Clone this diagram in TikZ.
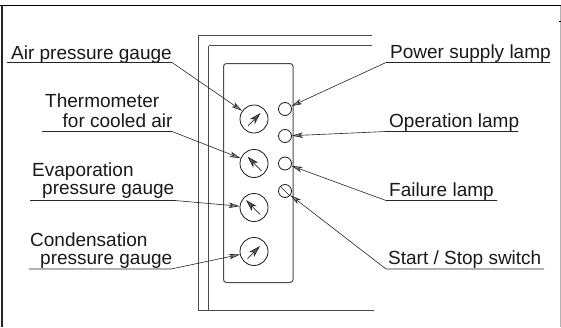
\documentclass[tikz,border=0pt]{standalone}
\usepackage{fontspec}
\setmainfont{Liberation Sans}
\usetikzlibrary{arrows.meta}
\tikzset{
  x=1pt,y=-1pt,
  lbl/.style={inner sep=0pt,font=\fontsize{19}{22}\selectfont,text=black!90,anchor=base west},
  leader/.style={draw=black!85,line width=0.6pt,-{Stealth[length=11pt,width=5.5pt,inset=3pt,fill=black!45]}},
  rule/.style={draw=black!70,line width=1pt},
  dial/.style={circle,draw=black!90,line width=0.8pt,minimum size=28pt,inner sep=0pt},
  lamp/.style={circle,draw=black!90,line width=0.8pt,minimum size=13pt,inner sep=0pt},
  needle/.style={draw=black!85,line width=0.7pt,-{Stealth[length=12pt,width=7pt,inset=3.5pt,fill=black!65]}},
}
\begin{document}
\begin{tikzpicture}
\useasboundingbox (0,0) rectangle (561,327);
\fill[white] (0,0) rectangle (561,327);
% page frame
\draw[line width=1.6pt,black] (0,5.5) -- (561,5.5);
\draw[line width=1.2pt,black!85] (2,5.5) -- (2,327);
\draw[line width=0.8pt,black!30] (560,5.5) -- (560,327);
\fill[black] (559,20.5) rectangle (561,21.5);
% cabinet
\draw[rule] (372,35.5) -- (198.5,35.5) -- (198.5,310) -- (374,310);
\draw[rule] (372,45.5) -- (208.5,45.5);
\draw[rule] (208.5,45.5) -- (208.5,310);
\draw[rule,rounded corners=3pt] (223.5,63.5) rectangle (293,282.5);
% dials
\node[dial] (g1) at (254,119) {};
\node[dial] (g2) at (254,163.5) {};
\node[dial] (g3) at (254,207.5) {};
\node[dial] (g4) at (254,251.5) {};
\node[lamp] (l1) at (285,109) {};
\node[lamp] (l2) at (285,136) {};
\node[lamp] (l3) at (285,163.5) {};
\node[lamp] (l4) at (285,191) {};
\draw[black!85,line width=0.6pt] (l4.north west) -- (l4.south east);
% needles
\draw[needle] (248,126) -- (260.5,113);
\draw[needle] (261.5,171) -- (247.5,156.5);
\draw[needle] (260,214.5) -- (246,200);
\draw[needle] (247.5,258.5) -- (260,246);
% labels
\node[lbl] (t1) at (11,59.5) {Air pressure gauge};
\node[lbl] (t2a) at (45,107.5) {Thermometer};
\node[lbl] (t2) at (62.5,127) {for cooled air};
\node[lbl] (t3a) at (32,176) {Evaporation};
\node[lbl] (t3) at (42,194.5) {pressure gauge};
\node[lbl] (t4a) at (30,246.5) {Condensation};
\node[lbl] (t4) at (40,264) {pressure gauge};
\node[lbl] (r1) at (390,58.5) {Power supply lamp};
\node[lbl] (r2) at (389,127) {Operation lamp};
\node[lbl] (r3) at (389,196) {Failure lamp};
\node[lbl] (r4) at (388,264.5) {Start / Stop switch};
% leaders
\coordinate (a1) at (7,62.5); \coordinate (b1) at (172,62.5);
\coordinate (a2) at (42,131.5); \coordinate (b2) at (172,131.5);
\coordinate (a3) at (30,200.5); \coordinate (b3) at (175,200.5);
\coordinate (a4) at (29,269); \coordinate (b4) at (171,269);
\coordinate (c1) at (550,62.5); \coordinate (d1) at (386,62.5);
\coordinate (c2) at (518,131.5); \coordinate (d2) at (386,131.5);
\coordinate (c3) at (497,200.5); \coordinate (d3) at (386,200.5);
\coordinate (c4) at (544,269); \coordinate (d4) at (386,269);
\draw[leader] (a1) -- (b1) -- (g1);
\draw[leader] (a2) -- (b2) -- (g2);
\draw[leader] (a3) -- (b3) -- (g3);
\draw[leader] (a4) -- (b4) -- (g4);
\draw[leader] (c1) -- (d1) -- (l1);
\draw[leader] (c2) -- (d2) -- (l2);
\draw[leader] (c3) -- (d3) -- (l3);
\draw[leader] (c4) -- (d4) -- (l4);
\end{tikzpicture}
\end{document}
